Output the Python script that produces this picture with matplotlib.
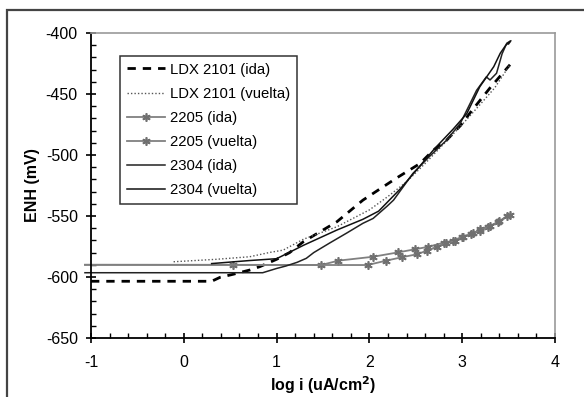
import numpy as np
import matplotlib.pyplot as plt
from matplotlib.patches import Rectangle
from matplotlib.ticker import MultipleLocator

plt.rcParams['font.family'] = ['Liberation Sans', 'DejaVu Sans']
plt.rcParams['axes.unicode_minus'] = False

# LDX 2101
ldx_ida_x = [-1, 0.3, 0.39, 0.53, 0.71, 0.82, 1.0, 1.14, 1.29, 1.65, 1.93, 2.29, 2.545, 2.69, 2.83, 2.98, 3.1, 3.3, 3.515]
ldx_ida_y = [-603.5, -603.5, -600.3, -597.8, -594.3, -591.5, -585.5, -580, -571, -554.7, -537, -519, -507, -496, -488, -476, -464, -445, -426]
ldx_vue_x = [-0.11, 0.35, 0.71, 0.93, 1.07, 1.29, 1.65, 2.0, 2.2, 2.4, 2.6, 2.8, 3.0, 3.2, 3.35, 3.515]
ldx_vue_y = [-587.5, -585.5, -583.4, -579.8, -578, -569, -558.8, -545, -534, -522, -507, -491, -475, -458, -445, -426]

# 2205
d2205_ida_x = [-1.065, 0.53, 1.48, 1.665, 2.04, 2.31, 2.49, 2.635, 2.80, 2.905, 2.995, 3.12, 3.19, 3.28, 3.39, 3.515]
d2205_ida_y = [-590, -590, -590.2, -586.6, -583.4, -579.8, -577.3, -575.2, -571.9, -570.2, -567, -564.2, -560.9, -558.8, -554.7, -549.2]
d2205_vue_x = [-1.065, 1.98, 2.18, 2.35, 2.51, 2.62, 2.725, 2.83, 2.92, 3.01, 3.10, 3.19, 3.30, 3.40, 3.48]
d2205_vue_y = [-590, -590.2, -586.6, -583.8, -581.4, -578.4, -575.2, -572.4, -570.2, -567.5, -564.8, -562, -558.5, -554.5, -550]

# 2304
d2304_ida_x = [-1.065, 0.85, 1.0, 1.1, 1.22, 1.32, 1.4, 1.575, 1.755, 1.93, 2.04, 2.19, 2.26, 2.47, 2.65, 2.83, 2.98,
               3.155, 3.26, 3.30, 3.37, 3.43, 3.48, 3.525, 3.5]
d2304_ida_y = [-596.5, -596.5, -593, -591, -588, -584.7, -580, -572, -564, -556, -552, -542, -537, -515, -501, -488, -474,
               -447, -436, -438.5, -433, -417, -408.4, -406.3, -409]
d2304_vue_x = [0.3, 0.71, 1.0, 1.29, 1.65, 1.93, 2.1, 2.33, 2.5, 2.7, 2.9, 3.05, 3.19, 3.34, 3.41, 3.47, 3.515]
d2304_vue_y = [-589, -586.5, -585, -574, -561.5, -552.7, -546, -528, -513, -495, -479, -466, -444, -427.6, -416.6, -410, -407]

labels = ['LDX 2101 (ida)', 'LDX 2101 (vuelta)', '2205 (ida)', '2205 (vuelta)', '2304 (ida)', '2304 (vuelta)']

fig = plt.figure(figsize=(5.84, 3.97), dpi=100)
ax = fig.add_axes([91/584, 1-338/397, 464/584, 305/397])

gray = '#808080'
star = (6, 2, 0)
ax.plot(ldx_ida_x, ldx_ida_y, color='black', lw=2, ls=(0, (3, 2.5)), label=labels[0])
ax.plot(ldx_vue_x, ldx_vue_y, color='#555555', lw=1, ls=(0, (1, 1.5)), label=labels[1])
ax.plot(d2205_ida_x, d2205_ida_y, color=gray, lw=1.3, marker=star, ms=6, mew=1.2, mec='#707070',
        markevery=list(range(1, len(d2205_ida_x))), label=labels[2], clip_on=False)
ax.plot(d2205_vue_x, d2205_vue_y, color=gray, lw=1.3, marker=star, ms=6, mew=1.2, mec='#707070',
        markevery=list(range(1, len(d2205_vue_x))), label=labels[3], clip_on=False)
ax.plot(d2304_ida_x, d2304_ida_y, color='#222222', lw=1.1, label=labels[4], clip_on=False)
ax.plot(d2304_vue_x, d2304_vue_y, color='#111111', lw=1.1, label=labels[5])

ax.set_xlim(-1, 4)
ax.set_ylim(-650, -400)
ax.xaxis.set_major_locator(MultipleLocator(1))
ax.xaxis.set_minor_locator(MultipleLocator(0.2))
ax.yaxis.set_major_locator(MultipleLocator(50))
ax.yaxis.set_minor_locator(MultipleLocator(10))
ax.tick_params(which='major', direction='inout', length=7, width=1.2, labelsize=11.5, top=False, right=False)
ax.tick_params(axis='x', which='major', pad=9)
ax.tick_params(axis='y', which='major', pad=6)
ax.tick_params(which='minor', direction='in', length=3.5, width=1, top=False, right=False)
for s in ['left', 'bottom']:
    ax.spines[s].set_linewidth(1.3)
    ax.spines[s].set_color('black')
for s in ['top', 'right']:
    ax.spines[s].set_linewidth(1.2)
    ax.spines[s].set_color('#999999')

ax.set_xlabel('log i (uA/cm$^\\mathbf{2}$)', fontsize=11.5, fontweight='bold', labelpad=3)
ax.set_ylabel('ENH (mV)', fontsize=11.5, fontweight='bold', labelpad=4)

leg = ax.legend(loc='upper left', bbox_to_anchor=(29/464, 1-23/305), borderaxespad=0,
                fancybox=False, frameon=True, edgecolor='black', fontsize=10.7,
                handlelength=2.6, handletextpad=0.3, labelspacing=0.68, borderpad=0.45)
leg.get_frame().set_linewidth(1.1)

fig.patches.append(Rectangle((7/584, -0.1), 1.2, 1-10/397+0.1, transform=fig.transFigure,
                             fill=False, edgecolor='#444444', lw=1.6))

fig.savefig('out.png', dpi=100)
